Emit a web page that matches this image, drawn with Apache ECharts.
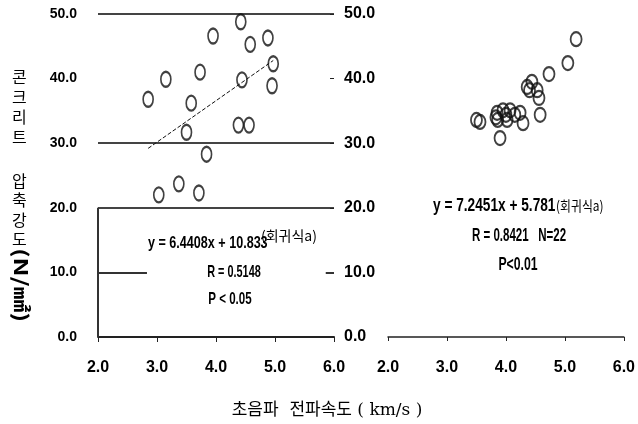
<!DOCTYPE html>
<html>
<head>
<meta charset="utf-8">
<script src="https://cdn.jsdelivr.net/npm/echarts@6/dist/echarts.min.js"></script>
<style>
html, body { margin: 0; padding: 0; background: #fff; }
#main { width: 638px; height: 424px; }
</style>
</head>
<body>
<div id="main"></div>
<script>
// 왼쪽 그래프 (N=18)
const leftVel = [2.85, 3.15, 3.95, 3.73, 3.58, 4.42, 4.58, 4.88, 4.97, 4.44, 4.95, 3.50, 4.38, 4.56, 3.84, 3.03, 3.37, 3.71]
const leftStr = [36.8, 39.9, 46.6, 41.0, 36.2, 48.8, 45.3, 46.3, 42.3, 39.8, 38.9, 31.7, 32.8, 32.8, 28.3, 22.0, 23.7, 22.3]
const leftTrend = [[2.85, 29.2], [4.97, 42.8]]
// 오른쪽 그래프 (N=22)
const rightVel = [5.19, 5.05, 4.73, 4.44, 4.36, 4.53, 4.56, 4.58, 4.29, 4.15, 4.07, 3.95, 3.85, 3.86, 3.90, 3.56, 3.50, 4.02, 4.24, 4.40, 3.83, 4.00]
const rightStr = [46.1, 42.4, 40.7, 39.5, 38.7, 38.2, 37.0, 34.4, 33.1, 34.4, 35.1, 35.1, 34.7, 33.6, 30.8, 33.3, 33.6, 33.6, 34.7, 38.2, 34.0, 34.4]
const xTicks = [2, 6, 1]   // min, max, interval
const yTicks = [0, 50, 10]

const LAT = '"Liberation Sans", Arial, sans-serif'
const KR = '"Noto Sans CJK KR", sans-serif'
const fmt = v => v.toFixed(1)

let myChart = echarts.init(document.getElementById('main'))
let leftData = leftVel.map((v, i) => [v, leftStr[i]])
let rightData = rightVel.map((v, i) => [v, rightStr[i]])

// 좁은 글꼴 대신 가로 축소한 텍스트
function label(text, x, y, size, sx, align, family, weight) {
    return {
        type: 'text', x: x, y: y, scaleX: sx,
        style: { text: text, font: (weight || 'bold') + ' ' + size + 'px ' + (family || LAT), fill: '#000', align: align || 'left', verticalAlign: 'middle' }
    }
}

let option = {
    backgroundColor: '#fff',
    animation: false,
    grid: [
        { left: 98, top: 14, width: 236, height: 323 },
        { left: 388, top: 14, width: 236, height: 323 }
    ],
    xAxis: [{
        gridIndex: 0, type: 'value', min: xTicks[0], max: xTicks[1], interval: xTicks[2],
        axisLine: { lineStyle: { color: '#222', width: 2 } },
        axisTick: { show: true, length: 5, lineStyle: { color: '#222' } },
        axisLabel: { formatter: fmt, color: '#000', fontFamily: LAT, fontWeight: 'bold', fontSize: 16, margin: 23 },
        splitLine: { show: false }
    }, {
        gridIndex: 1, type: 'value', min: xTicks[0], max: xTicks[1], interval: xTicks[2],
        axisLine: { lineStyle: { color: '#222', width: 1.5 } },
        axisTick: { show: true, length: 4, lineStyle: { color: '#222' } },
        axisLabel: { formatter: fmt, color: '#000', fontFamily: LAT, fontWeight: 'bold', fontSize: 16, margin: 23 },
        splitLine: { show: false }
    }],
    yAxis: [{
        gridIndex: 0, type: 'value', min: yTicks[0], max: yTicks[1], interval: yTicks[2],
        axisLine: { show: false },
        axisTick: { show: false },
        axisLabel: { formatter: fmt, color: '#000', fontFamily: LAT, fontWeight: 'bold', fontSize: 14, margin: 21 },
        splitLine: {
            show: true,
            lineStyle: { width: 2, color: ['rgba(0,0,0,0)', 'rgba(0,0,0,0)', '#444', '#444', 'rgba(0,0,0,0)', '#444'] }
        }
    }, {
        gridIndex: 1, type: 'value', min: yTicks[0], max: yTicks[1], interval: yTicks[2],
        position: 'left', offset: 58,
        axisLine: { show: false },
        axisTick: { show: true, inside: true, length: 4, lineStyle: { color: '#222' } },
        axisLabel: { inside: true, formatter: fmt, color: '#000', fontFamily: LAT, fontWeight: 'bold', fontSize: 16, margin: 14 },
        splitLine: { show: false }
    }],
    series: [{
        type: 'scatter', xAxisIndex: 0, yAxisIndex: 0,
        symbol: 'circle', symbolSize: [10, 15],
        itemStyle: { color: 'rgba(0,0,0,0)', borderColor: '#111', borderWidth: 2 },
        data: leftData,
        markLine: {
            silent: true, symbol: 'none', label: { show: false },
            lineStyle: { color: '#333', width: 2, type: 'solid' },
            data: [
                [{ coord: [2, 0] }, { coord: [2, 20] }],
                [{ coord: [2, 10] }, { coord: [2.83, 10] }],
                [{ coord: [5.86, 10] }, { coord: [6, 10] }]
            ]
        }
    }, {
        type: 'line', xAxisIndex: 0, yAxisIndex: 0,
        symbol: 'none',
        lineStyle: { color: '#111', width: 1, type: [4, 2] },
        data: leftTrend
    }, {
        type: 'scatter', xAxisIndex: 1, yAxisIndex: 1,
        symbol: 'circle', symbolSize: [11, 14],
        itemStyle: { color: 'rgba(0,0,0,0)', borderColor: '#111', borderWidth: 2 },
        data: rightData
    }],
    graphic: [
        // 세로축 제목
        { type: 'text', left: 12, top: 67, style: { text: '콘\n크\n리\n트', font: '16px ' + KR, lineHeight: 20, fill: '#000' } },
        { type: 'text', left: 12, top: 171, style: { text: '압\n축\n강\n도', font: '16px ' + KR, lineHeight: 19.5, fill: '#000' } },
        { type: 'text', x: 21, y: 285, rotation: -Math.PI / 2, scaleX: 1.35,
          style: { text: '(N/㎟)', font: 'bold 19px ' + KR, fill: '#000', align: 'center', verticalAlign: 'middle' } },
        // 가로축 제목
        { type: 'text', x: 327, y: 411,
          style: { text: '초음파  전파속도 ( km/s )', font: '17px "DejaVu Serif", ' + KR, fill: '#000', align: 'center', verticalAlign: 'middle' } },
        // 왼쪽 회귀식
        label('y = 6.4408x + 10.833', 148, 243, 17, 0.74),
        label('(회귀식a)', 261, 236, 14, 1.0, 'left', KR, 'normal'),
        label('R = 0.5148', 234, 272, 17, 0.64, 'center'),
        label('P < 0.05', 230, 299, 17, 0.68, 'center'),
        // 오른쪽 회귀식
        label('y = 7.2451x + 5.781', 433, 206, 18, 0.76),
        label('(회귀식a)', 556, 206, 14, 0.85, 'left', KR, 'normal'),
        label('R = 0.8421   N=22', 519, 236, 18, 0.64, 'center'),
        label('P<0.01', 518, 265, 18, 0.68, 'center')
    ]
}
myChart.setOption(option)
window.addEventListener('resize', function () {
    myChart.resize()
})
</script>
</body>
</html>
